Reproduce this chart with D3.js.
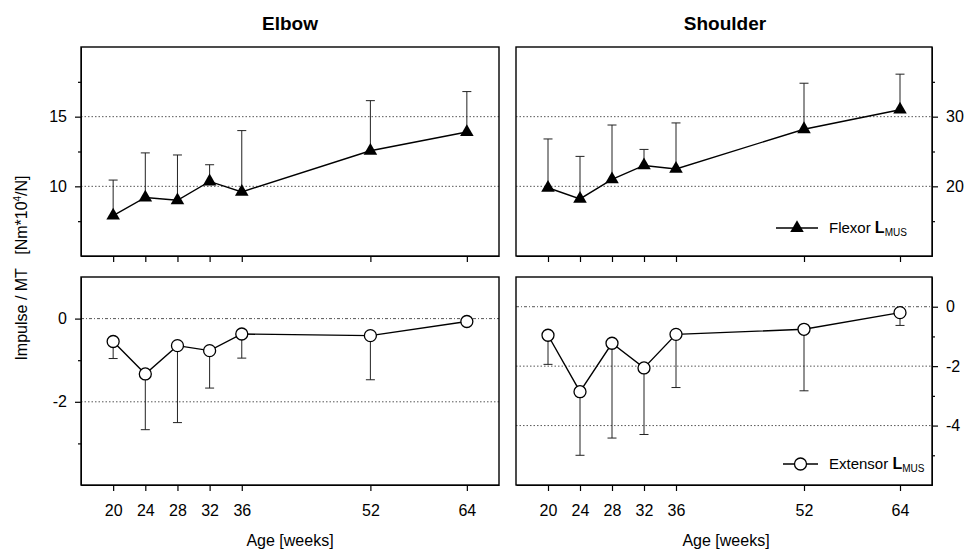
<!DOCTYPE html>
<html>
<head>
<meta charset="utf-8">
<script src="https://cdn.jsdelivr.net/npm/d3@7"></script>
<style>
  body { margin: 0; background: #fff; }
  svg { font-family: "Liberation Sans", Arial, sans-serif; }
  .axis path, .axis line { stroke: #000; }
</style>
</head>
<body>
<svg id="chart" width="980" height="551"></svg>
<script>
  // ages (weeks)
  const ages = [20, 24, 28, 32, 36, 52, 64];

  // flexor (mean, SD upward)
  const elbowFlexor = [7.9, 9.2, 9.0, 10.35, 9.6, 12.55, 13.9];
  const elbowFlexorSD = [2.55, 3.2, 3.25, 1.2, 4.4, 3.6, 2.9];
  const shoulderFlexor = [19.8, 18.2, 21.0, 23.0, 22.5, 28.2, 31.0];
  const shoulderFlexorSD = [7.0, 6.1, 7.8, 2.3, 6.6, 6.6, 5.1];

  // extensor (mean, SD downward)
  const elbowExtensor = [-0.55, -1.33, -0.65, -0.77, -0.37, -0.41, -0.07];
  const elbowExtensorSD = [0.41, 1.34, 1.85, 0.9, 0.58, 1.06, 0.08];
  const shoulderExtensor = [-0.96, -2.86, -1.23, -2.06, -0.93, -0.76, -0.2];
  const shoulderExtensorSD = [0.98, 2.14, 3.19, 2.24, 1.79, 2.07, 0.43];

  // axis ticks
  const elbowFlexorTicks = [10, 15], elbowFlexorMinor = [7.5, 12.5, 17.5];
  const shoulderFlexorTicks = [20, 30], shoulderFlexorMinor = [15, 25, 35];
  const elbowExtTicks = [0, -2], elbowExtMinor = [-1, -3];
  const shoulderExtTicks = [0, -2, -4], shoulderExtMinor = [-1, -3, -5];

  const svg = d3.select('#chart');

  const cols = [{x0: 81, x1: 499}, {x0: 516, x1: 932}];
  const rows = [{y0: 47, y1: 256}, {y0: 277, y1: 485}];

  const panels = [
    {col: 0, row: 0, domain: [5, 20], mean: elbowFlexor, sd: elbowFlexorSD, dir: 1,
      ticks: elbowFlexorTicks, minor: elbowFlexorMinor, side: 'left', marker: 'tri'},
    {col: 1, row: 0, domain: [10, 40], mean: shoulderFlexor, sd: shoulderFlexorSD, dir: 1,
      ticks: shoulderFlexorTicks, minor: shoulderFlexorMinor, side: 'right', marker: 'tri',
      legend: 'Flexor '},
    {col: 0, row: 1, domain: [-4, 1], mean: elbowExtensor, sd: elbowExtensorSD, dir: -1,
      ticks: elbowExtTicks, minor: elbowExtMinor, side: 'left', marker: 'circ'},
    {col: 1, row: 1, domain: [-6, 1], mean: shoulderExtensor, sd: shoulderExtensorSD, dir: -1,
      ticks: shoulderExtTicks, minor: shoulderExtMinor, side: 'right', marker: 'circ',
      legend: 'Extensor '}
  ];

  const tri = d3.symbol().type(d3.symbolTriangle).size(80);
  const fmt = function (d) { return String(d); };

  function styleAxis(sel) {
    sel.selectAll('text').attr('font-size', 16).attr('fill', '#000');
    sel.selectAll('line').attr('stroke-width', 1.2);
  }

  panels.forEach(function (p) {
    let c = cols[p.col], r = rows[p.row];
    let x = d3.scaleLinear().domain([16, 68]).range([c.x0, c.x1]);
    let y = d3.scaleLinear().domain(p.domain).range([r.y1, r.y0]);
    let g = svg.append('g');

    // grid lines
    g.selectAll('.grid')
      .data(p.ticks)
      .enter()
      .append('line')
      .attr('x1', c.x0).attr('x2', c.x1)
      .attr('y1', function (d) { return y(d); })
      .attr('y2', function (d) { return y(d); })
      .attr('stroke', '#444')
      .attr('stroke-width', 0.9)
      .attr('stroke-dasharray', function (d) { return d === 0 ? '3,2,1,2' : '1.5,2'; });

    // y axes
    let axisMaj = (p.side === 'left' ? d3.axisLeft(y) : d3.axisRight(y))
      .tickValues(p.ticks).tickFormat(fmt).tickSize(6).tickPadding(8).tickSizeOuter(0);
    let axisMin = (p.side === 'left' ? d3.axisLeft(y) : d3.axisRight(y))
      .tickValues(p.minor).tickSize(3).tickFormat('').tickSizeOuter(0);
    let ax = p.side === 'left' ? c.x0 : c.x1;
    g.append('g').attr('class', 'axis').attr('transform', 'translate(' + ax + ',0)').call(axisMaj).call(styleAxis);
    g.append('g').attr('class', 'axis').attr('transform', 'translate(' + ax + ',0)').call(axisMin).call(styleAxis);

    // x axis
    let axisX = d3.axisBottom(x).tickValues(ages).tickFormat(fmt).tickSize(6).tickPadding(14).tickSizeOuter(0);
    if (p.row === 0) axisX.tickFormat('');
    g.append('g').attr('class', 'axis').attr('transform', 'translate(0,' + r.y1 + ')').call(axisX).call(styleAxis);

    // frame
    g.append('rect')
      .attr('x', c.x0).attr('y', r.y0)
      .attr('width', c.x1 - c.x0).attr('height', r.y1 - r.y0)
      .attr('fill', 'none').attr('stroke', '#000').attr('stroke-width', 1.4);

    // error bars
    let eb = g.append('g').attr('stroke', '#222').attr('stroke-width', 1);
    ages.forEach(function (a, i) {
      let yEnd = y(p.mean[i] + p.dir * p.sd[i]);
      eb.append('line').attr('x1', x(a)).attr('x2', x(a))
        .attr('y1', y(p.mean[i])).attr('y2', yEnd);
      eb.append('line').attr('x1', x(a) - 4.5).attr('x2', x(a) + 4.5)
        .attr('y1', yEnd).attr('y2', yEnd);
    });

    // line
    let line = d3.line()
      .x(function (d, i) { return x(ages[i]); })
      .y(function (d) { return y(d); });
    g.append('path').datum(p.mean)
      .attr('d', line)
      .attr('fill', 'none').attr('stroke', '#000').attr('stroke-width', 1.4);

    // markers
    if (p.marker === 'tri') {
      g.selectAll('.m').data(p.mean).enter().append('path')
        .attr('d', tri)
        .attr('transform', function (d, i) { return 'translate(' + x(ages[i]) + ',' + y(d) + ')'; })
        .attr('fill', '#000');
    } else {
      g.selectAll('.m').data(p.mean).enter().append('circle')
        .attr('cx', function (d, i) { return x(ages[i]); })
        .attr('cy', function (d) { return y(d); })
        .attr('r', 6)
        .attr('fill', '#fff').attr('stroke', '#000').attr('stroke-width', 1.3);
    }

    // legend
    if (p.legend) {
      let ly = p.row === 0 ? 228 : 464;
      let lx0 = p.row === 0 ? 776 : 783, lx1 = 818, lm = (lx0 + lx1) / 2;
      g.append('line').attr('x1', lx0).attr('x2', lx1).attr('y1', ly).attr('y2', ly)
        .attr('stroke', '#000').attr('stroke-width', 1.4);
      if (p.marker === 'tri') {
        g.append('path').attr('d', tri).attr('transform', 'translate(' + lm + ',' + ly + ')').attr('fill', '#000');
      } else {
        g.append('circle').attr('cx', lm).attr('cy', ly).attr('r', 6)
          .attr('fill', '#fff').attr('stroke', '#000').attr('stroke-width', 1.3);
      }
      let t = g.append('text').attr('x', 829).attr('y', ly + 5).attr('font-size', 15);
      t.append('tspan').text(p.legend);
      t.append('tspan').attr('font-weight', 'bold').attr('font-size', 16).text('L');
      t.append('tspan').attr('font-size', 10).attr('dy', 3).text('MUS');
    }
  });

  // titles
  svg.append('text').attr('x', 290).attr('y', 30).attr('text-anchor', 'middle')
    .attr('font-size', 19).attr('font-weight', 'bold').text('Elbow');
  svg.append('text').attr('x', 725).attr('y', 30).attr('text-anchor', 'middle')
    .attr('font-size', 19).attr('font-weight', 'bold').text('Shoulder');

  // x labels
  [290, 726].forEach(function (cx) {
    svg.append('text').attr('x', cx).attr('y', 546).attr('text-anchor', 'middle')
      .attr('font-size', 16).text('Age [weeks]');
  });

  // y label
  let yl = svg.append('text')
    .attr('transform', 'translate(27,268) rotate(-90)')
    .attr('text-anchor', 'middle').attr('font-size', 16);
  yl.append('tspan').text('Impulse / MT\u00a0\u00a0\u00a0[Nm*10');
  yl.append('tspan').attr('font-size', 10).attr('dy', -6).text('4');
  yl.append('tspan').attr('dy', 6).text('/N]');
</script>
</body>
</html>
